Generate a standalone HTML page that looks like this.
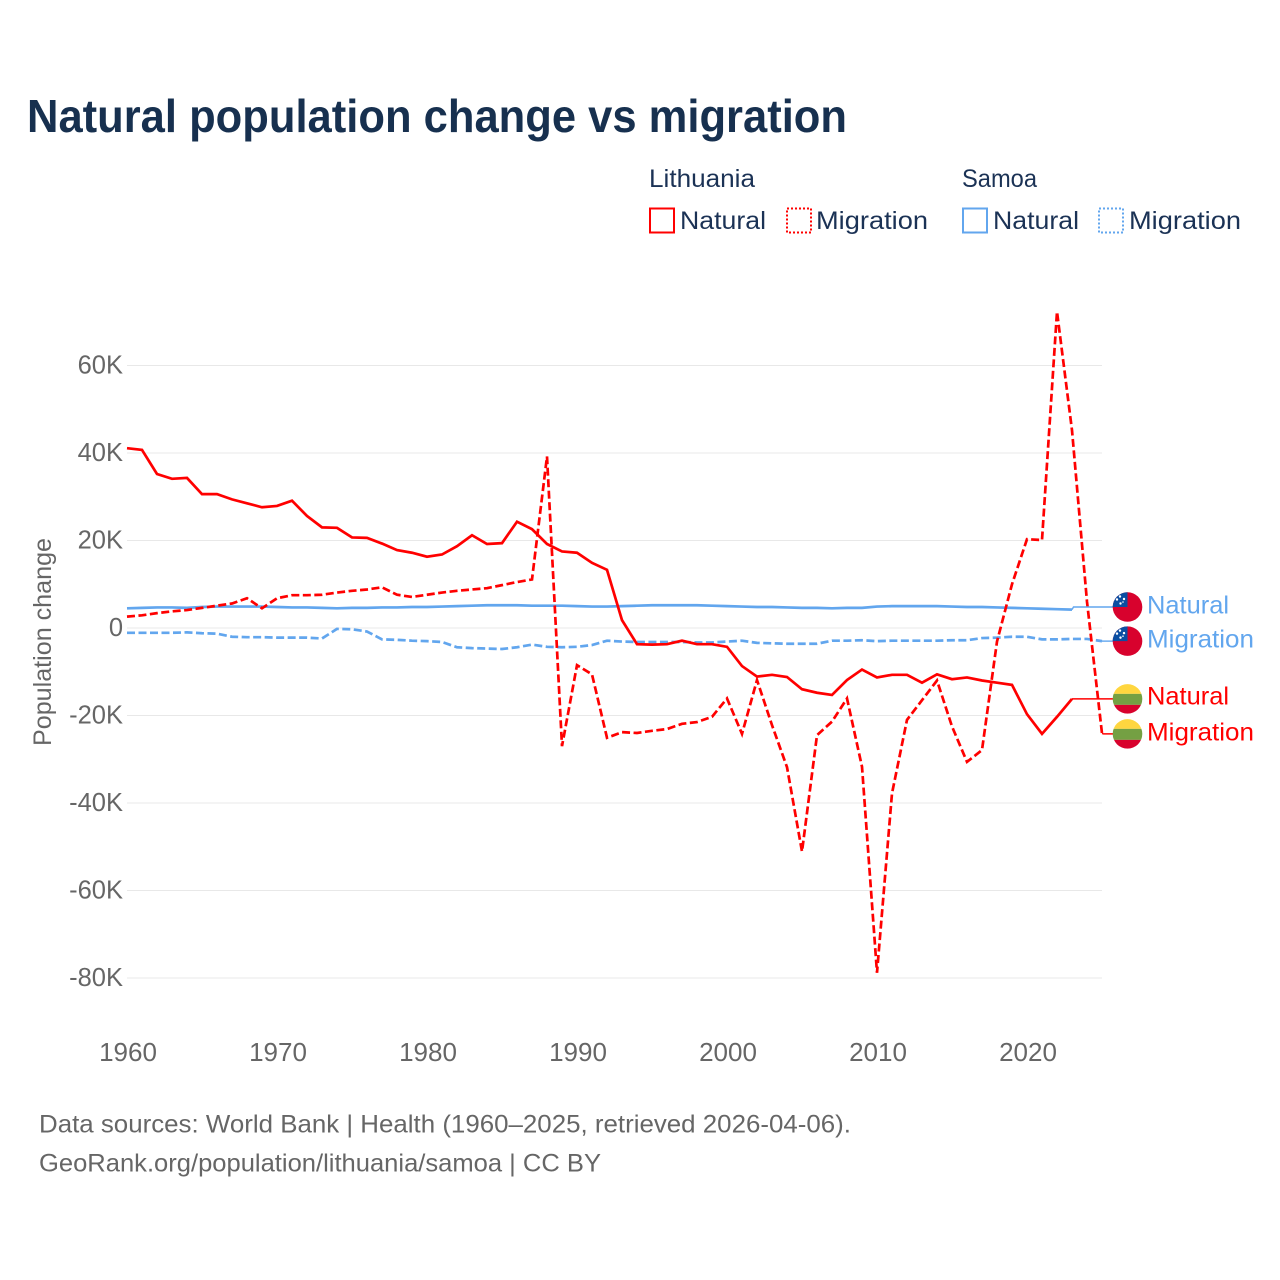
<!DOCTYPE html>
<html lang="en">
<head>
<meta charset="utf-8">
<title>Natural population change vs migration</title>
<style>
html,body{margin:0;padding:0;background:#fff;width:1280px;height:1280px;overflow:hidden}
svg{display:block}
text{font-family:"Liberation Sans",sans-serif}
</style>
</head>
<body>
<svg id="chart" width="1280" height="1280" viewBox="0 0 1280 1280" xmlns="http://www.w3.org/2000/svg">
  <defs>
    <clipPath id="flag-clip"><circle cx="0" cy="0" r="14.8"/></clipPath>
    <g id="samoa-flag">
      <g clip-path="url(#flag-clip)">
        <rect x="-15" y="-15" width="30" height="30" fill="#d8022d"/>
        <rect x="-15" y="-15" width="15" height="15" fill="#0b4ea2"/>
        <circle cx="-7.5" cy="-10.5" r="1.2" fill="#fff"/>
        <circle cx="-10.5" cy="-7.5" r="1.2" fill="#fff"/>
        <circle cx="-3.5" cy="-8" r="1.2" fill="#fff"/>
        <circle cx="-7" cy="-3.5" r="1.2" fill="#fff"/>
        <circle cx="-4.5" cy="-5" r="0.8" fill="#fff"/>
      </g>
    </g>
    <g id="lithuania-flag">
      <g clip-path="url(#flag-clip)">
        <rect x="-15" y="-15" width="30" height="10" fill="#ffd63f"/>
        <rect x="-15" y="-5" width="30" height="11" fill="#74a043"/>
        <rect x="-15" y="6" width="30" height="9" fill="#d8022d"/>
      </g>
    </g>
  </defs>

  <text x="27" y="132" font-size="46" font-weight="700" fill="#17304f" textLength="820" lengthAdjust="spacingAndGlyphs">Natural population change vs migration</text>

  <g font-size="25" fill="#1b3255">
    <text x="649" y="187" textLength="106" lengthAdjust="spacingAndGlyphs">Lithuania</text>
    <text x="962" y="187" textLength="75" lengthAdjust="spacingAndGlyphs">Samoa</text>

    <rect x="650" y="208.5" width="24" height="24" fill="none" stroke="#ff0000" stroke-width="2"/>
    <text x="680" y="229" textLength="86" lengthAdjust="spacingAndGlyphs">Natural</text>
    <rect x="787" y="208.5" width="24" height="24" fill="none" stroke="#ff0000" stroke-width="2" stroke-dasharray="2 2"/>
    <text x="816" y="229" textLength="112" lengthAdjust="spacingAndGlyphs">Migration</text>

    <rect x="963" y="208.5" width="24" height="24" fill="none" stroke="#62a6ee" stroke-width="2"/>
    <text x="993" y="229" textLength="86" lengthAdjust="spacingAndGlyphs">Natural</text>
    <rect x="1099" y="208.5" width="24" height="24" fill="none" stroke="#62a6ee" stroke-width="2" stroke-dasharray="2 2"/>
    <text x="1129" y="229" textLength="112" lengthAdjust="spacingAndGlyphs">Migration</text>
  </g>

  <text transform="translate(51,642) rotate(-90)" text-anchor="middle" font-size="25" fill="#666666" textLength="208" lengthAdjust="spacingAndGlyphs">Population change</text>

  <g id="grid-layer"></g>
  <g id="y-tick-layer"></g>
  <g id="x-tick-layer"></g>
  <g id="line-layer"></g>
  <g id="end-label-layer"></g>

  <text x="39" y="1132.5" font-size="25" fill="#666666" textLength="812" lengthAdjust="spacingAndGlyphs">Data sources: World Bank | Health (1960–2025, retrieved 2026-04-06).</text>
  <text x="39" y="1171.5" font-size="25" fill="#666666" textLength="562" lengthAdjust="spacingAndGlyphs">GeoRank.org/population/lithuania/samoa | CC BY</text>
</svg>

<script>
const years = [1960,1961,1962,1963,1964,1965,1966,1967,1968,1969,1970,1971,1972,1973,1974,1975,1976,1977,1978,1979,
  1980,1981,1982,1983,1984,1985,1986,1987,1988,1989,1990,1991,1992,1993,1994,1995,1996,1997,1998,1999,
  2000,2001,2002,2003,2004,2005,2006,2007,2008,2009,2010,2011,2012,2013,2014,2015,2016,2017,2018,2019,
  2020,2021,2022,2023,2024,2025];

// All series values in thousands of people
const lithuaniaNatural = [41.1,40.7,35.2,34.1,34.3,30.6,30.6,29.4,28.5,27.6,27.9,29.1,25.6,23.0,22.9,20.7,20.6,19.3,17.8,17.2,
  16.3,16.8,18.7,21.2,19.2,19.4,24.3,22.6,19.2,17.5,17.2,14.9,13.3,1.8,-3.7,-3.8,-3.7,-2.9,-3.7,-3.7,
  -4.3,-8.7,-11.1,-10.7,-11.2,-14.0,-14.8,-15.3,-11.9,-9.5,-11.3,-10.7,-10.7,-12.5,-10.6,-11.7,-11.3,-12.0,-12.5,-13.0,
  -19.7,-24.2,-20.3,-16.2];

const lithuaniaMigration = [2.6,2.9,3.4,3.8,4.1,4.6,5.1,5.6,6.8,4.5,6.8,7.5,7.5,7.6,8.1,8.5,8.8,9.3,7.6,7.1,
  7.6,8.1,8.5,8.8,9.1,9.8,10.5,11.1,39.2,-27.0,-8.5,-10.6,-25.1,-23.8,-24.0,-23.5,-23.1,-21.9,-21.5,-20.3,
  -16.1,-24.2,-11.9,-22.2,-31.8,-51.1,-24.5,-21.4,-16.1,-31.7,-78.8,-37.8,-21.0,-16.5,-12.0,-22.5,-30.6,-27.9,-3.1,10.0,
  20.3,20.1,72.3,45.2,6.0,-24.1];

const samoaNatural = [4.5,4.6,4.7,4.7,4.6,4.8,4.9,4.9,4.9,4.9,4.8,4.7,4.7,4.6,4.5,4.6,4.6,4.7,4.7,4.8,
  4.8,4.9,5.0,5.1,5.2,5.2,5.2,5.1,5.1,5.1,5.0,4.9,4.9,5.0,5.1,5.2,5.2,5.2,5.2,5.1,
  5.0,4.9,4.8,4.8,4.7,4.6,4.6,4.5,4.6,4.6,4.9,5.0,5.0,5.0,5.0,4.9,4.8,4.8,4.7,4.6,
  4.5,4.4,4.3,4.2];

const samoaMigration = [-1.1,-1.1,-1.1,-1.1,-1.0,-1.2,-1.3,-2.0,-2.1,-2.1,-2.2,-2.2,-2.2,-2.4,-0.2,-0.3,-0.8,-2.6,-2.7,-2.9,
  -3.0,-3.2,-4.4,-4.6,-4.7,-4.8,-4.4,-3.8,-4.3,-4.4,-4.3,-3.9,-2.9,-3.1,-3.2,-3.2,-3.2,-3.2,-3.3,-3.3,
  -3.1,-2.9,-3.4,-3.5,-3.6,-3.6,-3.6,-2.9,-2.9,-2.8,-3.0,-2.9,-2.9,-2.9,-2.9,-2.8,-2.8,-2.3,-2.2,-2.0,
  -2.0,-2.6,-2.6,-2.5,-2.5,-3.0];

const xTickYears = [1960,1970,1980,1990,2000,2010,2020];
const xTickLabels = ["1960","1970","1980","1990","2000","2010","2020"];
const yTickValues = [60,40,20,0,-20,-40,-60,-80];
const yTickLabels = ["60K","40K","20K","0","-20K","-40K","-60K","-80K"];

// Value each end label is anchored to (thousands)
const labelAnchors = [4.8,-3.0,-16.2,-24.2];
const labelTexts = ["Natural","Migration","Natural","Migration"];

const svgNS = "http://www.w3.org/2000/svg";
const X_AT_1960 = 127, PX_PER_YEAR = 15;
const Y_AT_ZERO = 628, PX_PER_THOUSAND = 4.375;
const PLOT_RIGHT = 1102;
const RED = "#ff0000", BLUE = "#62a6ee";

function xScale(year) { return X_AT_1960 + (year - 1960) * PX_PER_YEAR; }
function yScale(value) { return Y_AT_ZERO - value * PX_PER_THOUSAND; }

function make(tag, attrs, parent, text) {
  const node = document.createElementNS(svgNS, tag);
  Object.keys(attrs).forEach(function (k) { node.setAttribute(k, attrs[k]); });
  if (text !== undefined) node.textContent = text;
  parent.appendChild(node);
  return node;
}

function pointsFor(values) {
  return values.map(function (v, i) { return xScale(years[i]).toFixed(2) + "," + yScale(v).toFixed(2); }).join(" ");
}

const gridLayer = document.getElementById("grid-layer");
const yTickLayer = document.getElementById("y-tick-layer");
const xTickLayer = document.getElementById("x-tick-layer");
const lineLayer = document.getElementById("line-layer");
const labelLayer = document.getElementById("end-label-layer");

yTickValues.forEach(function (v, i) {
  const g = make("line", {x1: X_AT_1960, x2: PLOT_RIGHT, y1: yScale(v), y2: yScale(v), stroke: "#e8e8e8", "stroke-width": 1}, gridLayer);
  
  
  const t = make("text", {x: 123, y: yScale(v) + 8, "text-anchor": "end", "font-size": 25.5, fill: "#666666"}, yTickLayer, yTickLabels[i]);
  
  
});

xTickYears.forEach(function (year, i) {
  const t = make("text", {x: xScale(year) + 1, y: 1061, "text-anchor": "middle", "font-size": 26, fill: "#666666"}, xTickLayer, xTickLabels[i]);
  
  
});

function drawSeries(values, color, dashed, seriesName) {
  const attrs = {points: pointsFor(values), fill: "none", stroke: color, "stroke-width": 2.7, "stroke-linejoin": "miter"};
  if (dashed) attrs["stroke-dasharray"] = "8 3.5";
  const line = make("polyline", attrs, lineLayer);
  
  
}

drawSeries(samoaNatural, BLUE, false, "samoa-natural-line");
drawSeries(samoaMigration, BLUE, true, "samoa-migration-line");
drawSeries(lithuaniaNatural, RED, false, "lithuania-natural-line");
drawSeries(lithuaniaMigration, RED, true, "lithuania-migration-line");

function drawEndLabel(values, anchorIndex, color, flagId, labelName, textLift) {
  const lastIndex = values.length - 1;
  const lastX = xScale(years[lastIndex]);
  const lastY = yScale(values[lastIndex]);
  const labelY = yScale(labelAnchors[anchorIndex]);
  const connector = make("polyline", {points: lastX + "," + lastY + " " + (lastX + 1.5) + "," + labelY + " 1113," + labelY, fill: "none", stroke: color, "stroke-width": 1.4}, labelLayer);
  
  
  const flag = make("use", {href: "#" + flagId, x: 1127.5, y: labelY}, labelLayer);
  
  
  const text = make("text", {x: 1147, y: labelY + 7.5 - textLift, "font-size": 25, fill: color, textLength: labelTexts[anchorIndex] === "Natural" ? 82 : 107, lengthAdjust: "spacingAndGlyphs"}, labelLayer, labelTexts[anchorIndex]);
  
  
}

drawEndLabel(samoaNatural, 0, BLUE, "samoa-flag", "samoa-natural", 1);
drawEndLabel(samoaMigration, 1, BLUE, "samoa-flag", "samoa-migration", 1);
drawEndLabel(lithuaniaNatural, 2, RED, "lithuania-flag", "lithuania-natural", 2);
drawEndLabel(lithuaniaMigration, 3, RED, "lithuania-flag", "lithuania-migration", 1);
</script>
</body>
</html>
